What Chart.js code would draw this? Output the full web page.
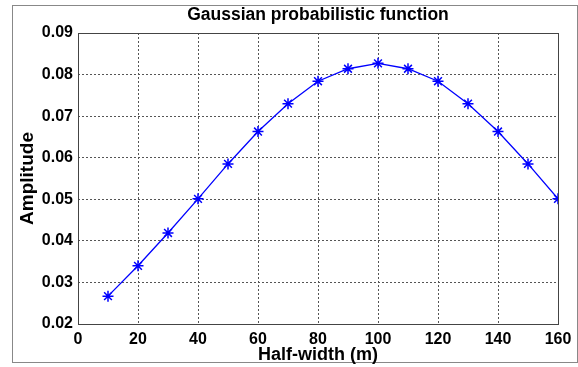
<!DOCTYPE html>
<html lang="en">
<head>
    <meta charset="UTF-8">
    <title>Gaussian probabilistic function</title>
    <script src="https://cdn.jsdelivr.net/npm/chart.js"></script>
    <style>
        body, html { margin: 0; padding: 0; background: #fff; }
        #wrap { width: 578px; height: 367px; }
    </style>
</head>
<body>
    <div id="wrap"><canvas id="chart" width="578" height="367"></canvas></div>
    <script>
        // half-width (m) and amplitude
        var halfWidth = [10, 20, 30, 40, 50, 60, 70, 80, 90, 100, 110, 120, 130, 140, 150, 160];
        var amplitude = [0.0267, 0.0340, 0.0419, 0.0501, 0.0585, 0.0663, 0.0730, 0.0784, 0.0814, 0.0827,
                         0.0814, 0.0784, 0.0730, 0.0663, 0.0585, 0.0501];
        var xTicks = [0, 20, 40, 60, 80, 100, 120, 140, 160];
        var yTicks = [0.02, 0.03, 0.04, 0.05, 0.06, 0.07, 0.08, 0.09];

        var fam = 'Arial, "Liberation Sans", sans-serif';
        var tickFont = { family: fam, size: 16, weight: 'bold' };

        // gray frame around the whole figure + white background
        var framePlugin = {
            id: 'frame',
            beforeDraw: function(chart) {
                var ctx = chart.ctx;
                ctx.save();
                ctx.fillStyle = '#fff';
                ctx.fillRect(0, 0, chart.width, chart.height);
                ctx.strokeStyle = '#888';
                ctx.lineWidth = 1;
                ctx.strokeRect(12.5, 5.5, 565, 357);
                ctx.restore();
            },
            afterDatasetsDraw: function(chart) {
                var a = chart.chartArea, ctx = chart.ctx;
                ctx.save();
                ctx.strokeStyle = '#444';
                ctx.lineWidth = 1;
                ctx.strokeRect(Math.round(a.left) + 0.5, Math.round(a.top) + 0.5,
                    Math.round(a.right - a.left), Math.round(a.bottom - a.top));
                ctx.restore();
            }
        };

        new Chart(document.getElementById('chart').getContext('2d'), {
            type: 'line',
            data: {
                datasets: [{
                    data: halfWidth.map(function(x, i) { return { x: x, y: amplitude[i] }; }),
                    borderColor: '#0000ff',
                    backgroundColor: '#0000ff',
                    borderWidth: 1.3,
                    pointStyle: 'star',
                    pointRadius: 5.5,
                    pointBorderWidth: 1.5,
                    pointBorderColor: '#0000ff',
                    tension: 0,
                    fill: false
                }]
            },
            options: {
                responsive: false,
                animation: false,
                layout: { padding: { left: 12, right: 20, top: 0, bottom: 0 } },
                plugins: {
                    legend: { display: false },
                    tooltip: { enabled: false },
                    title: {
                        display: true,
                        fullSize: false,
                        text: 'Gaussian probabilistic function',
                        color: '#000',
                        font: { family: fam, size: 17.5, weight: 'bold' },
                        padding: { top: 5, bottom: 7 }
                    }
                },
                scales: {
                    x: {
                        type: 'linear',
                        min: 0, max: 160,
                        afterBuildTicks: function(s) { s.ticks = xTicks.map(function(v) { return { value: v }; }); },
                        afterFit: function(s) { s.height = 43; },
                        grid: { color: '#555', drawTicks: false, lineWidth: 1 },
                        border: { display: false, dash: [2, 2] },
                        ticks: { color: '#000', font: tickFont, padding: 6, maxRotation: 0 },
                        title: {
                            display: true, text: 'Half-width (m)', color: '#000',
                            font: { family: fam, size: 18, weight: 'bold' },
                            padding: { top: 0, bottom: 1 }
                        }
                    },
                    y: {
                        min: 0.02, max: 0.09,
                        afterBuildTicks: function(s) { s.ticks = yTicks.map(function(v) { return { value: v }; }); },
                        afterFit: function(s) { s.width = 66; },
                        grid: { color: '#555', drawTicks: false, lineWidth: 1 },
                        border: { display: false, dash: [2, 2] },
                        ticks: {
                            color: '#000', font: tickFont, padding: 5,
                            callback: function(v) { return v.toFixed(2); }
                        },
                        title: {
                            display: true, text: 'Amplitude', color: '#000',
                            font: { family: fam, size: 19, weight: 'bold' },
                            padding: { top: 4, bottom: 0 }
                        }
                    }
                }
            },
            plugins: [framePlugin]
        });
    </script>
</body>
</html>
